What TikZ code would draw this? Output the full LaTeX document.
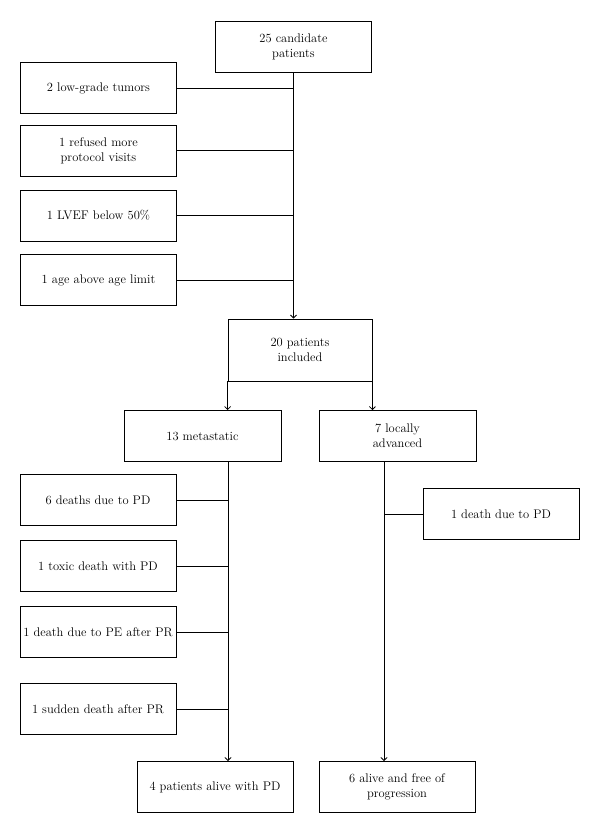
\documentclass[tikz,border=0pt]{standalone}
\usepackage{tikz}
\usetikzlibrary{arrows}

\begin{document}
\begin{tikzpicture}[x=1pt,y=-1pt,line width=.8pt,>=angle 90,
    box/.style={draw, rectangle, minimum width=156pt, minimum height=51pt, inner sep=2pt,
      align=center, font=\fontsize{12.5}{15}\selectfont}]
      \useasboundingbox (0,0) rectangle (600,834);
      % top of the chart
      \node (cand) at (293.5,46.5) [box] {25 candidate\\patients};
      \foreach \n/\y/\txt in {1/88/2 low-grade tumors, 2/150.5/1 refused more\\protocol visits,
                              3/215.5/1 LVEF below 50\%, 4/280/1 age above age limit} {
        \node (ex\n) at (98.5,\y) [box] {\txt};
        \draw (ex\n.east) to (ex\n.east -| cand.south);
      }
      \node (incl) at (300,350) [box, minimum width=144pt, minimum height=62pt] {20 patients\\included};
      \draw[->] (cand.south) to (cand.south |- incl.north);
      % the two arms
      \node (met) at (202.5,436) [box, minimum width=157pt] {13 metastatic};
      \node (loc) at (397.5,436) [box, minimum width=157pt] {7 locally\\advanced};
      \draw[->] (incl.south west) to (incl.south west |- met.north);
      \draw[->] (incl.south east) to (incl.south east |- loc.north);
      \node (alivepd) at (215,787) [box] {4 patients alive with PD};
      \node (alivefree) at (397,787) [box] {6 alive and free of\\progression};
      \coordinate (mtrunk) at (228,462);
      \coordinate (ltrunk) at (384,462);
      \draw[->] (mtrunk) to (mtrunk |- alivepd.north);
      \draw[->] (ltrunk) to (ltrunk |- alivefree.north);
      \foreach \n/\y/\txt in {1/500/6 deaths due to PD, 2/566/1 toxic death with PD,
                              3/632/1 death due to PE after PR, 4/709/1 sudden death after PR} {
        \node (dm\n) at (98,\y) [box] {\txt};
        \draw (dm\n.east) to (dm\n.east -| mtrunk);
      }
      \node (dl) at (501,514) [box] {1 death due to PD};
      \draw (dl.west) to (dl.west -| ltrunk);
\end{tikzpicture}
\end{document}
